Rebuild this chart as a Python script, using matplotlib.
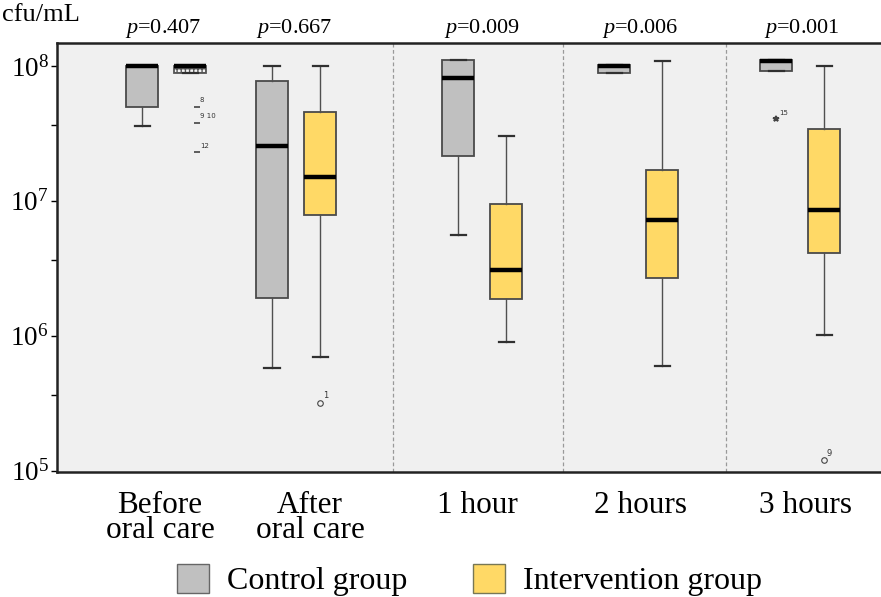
import numpy as np
import matplotlib
matplotlib.use("Agg")
import matplotlib.pyplot as plt
from matplotlib.patches import Patch
from matplotlib.ticker import FixedLocator, NullFormatter

plt.rcParams['font.family'] = ['Liberation Serif', 'DejaVu Serif']
plt.rcParams['mathtext.fontset'] = 'custom'
plt.rcParams['mathtext.rm'] = 'Liberation Serif'
plt.rcParams['mathtext.it'] = 'Liberation Serif:italic'

# data (cfu/mL)
categories = ["Before\noral care", "After\noral care", "1 hour", "2 hours", "3 hours"]
p_values = ["0.407", "0.667", "0.009", "0.006", "0.001"]

ctrl_whislo = [3.6e7, 5.8e5, 5.6e6, 8.8e7, 9.2e7]
ctrl_q1 = [4.95e7, 1.9e6, 2.15e7, 8.8e7, 9.2e7]
ctrl_med = [1.0e8, 2.55e7, 8.1e7, 1.0e8, 1.08e8]
ctrl_q3 = [1.0e8, 7.7e7, 1.1e8, 1.02e8, 1.11e8]
ctrl_whishi = [1.0e8, 1.0e8, 1.1e8, 1.02e8, 1.11e8]

int_whislo = [8.9e7, 6.9e5, 9.0e5, 6.0e5, 1.02e6]
int_q1 = [8.9e7, 7.9e6, 1.88e6, 2.7e6, 4.1e6]
int_med = [1.0e8, 1.5e7, 3.08e6, 7.2e6, 8.6e6]
int_q3 = [1.0e8, 4.57e7, 9.5e6, 1.7e7, 3.4e7]
int_whishi = [1.0e8, 1.0e8, 3.03e7, 1.09e8, 1.0e8]

# outliers: (category index, group, value, case label, marker)
outliers = [
    (0, "int", 5.0e7, "8", "_"),
    (0, "int", 3.8e7, "9 10", "_"),
    (0, "int", 2.3e7, "12", "_"),
    (1, "int", 3.2e5, "1", "o"),
    (4, "ctrl", 4.05e7, "15", "*"),
    (4, "int", 1.2e5, "9", "o"),
]

ctrl_color = "#c0c0c0"
int_color = "#ffd966"

centers = np.array([1.66, 2.96, 4.82, 6.38, 8.00])
offset = 0.24
width = 0.32


def make_stats(lo, q1, med, q3, hi):
    return [dict(whislo=a, q1=b, med=c, q3=d, whishi=e, fliers=[])
            for a, b, c, d, e in zip(lo, q1, med, q3, hi)]


fig = plt.figure(figsize=(8.81, 5.97), dpi=100)
ax = fig.add_axes([57 / 881, 1 - 472 / 597, 1 - 57 / 881, (472 - 43) / 597])
ax.set_facecolor("#f0f0f0")

common = dict(widths=width, patch_artist=True, showfliers=False, capwidths=0.15,
              whiskerprops=dict(color="#505050", lw=1.0),
              capprops=dict(color="#303030", lw=1.6),
              medianprops=dict(color="black", lw=3.2, solid_capstyle="butt"))

b1 = ax.bxp(make_stats(ctrl_whislo, ctrl_q1, ctrl_med, ctrl_q3, ctrl_whishi),
            positions=centers - offset, **common)
b2 = ax.bxp(make_stats(int_whislo, int_q1, int_med, int_q3, int_whishi),
            positions=centers + offset, **common)
for box in b1["boxes"]:
    box.set(facecolor=ctrl_color, edgecolor="#4a4a4a", lw=1.3)
for i, box in enumerate(b2["boxes"]):
    box.set(facecolor=int_color, edgecolor="#4a4a4a", lw=1.3)
    if i == 0:
        box.set(facecolor="#f4f4f4", hatch="++++", edgecolor="#555555")

for idx, grp, val, lab, mk in outliers:
    x = centers[idx] + (offset if grp == "int" else -offset)
    if idx == 0:
        x += 0.07
    if mk == "o":
        ax.plot(x, val, marker="o", ms=4, mfc="none", mec="#444444", mew=0.8)
        fs = 6
    else:
        ax.plot(x, val, marker=mk, ms=4, color="#444444", mew=1.2)
        fs = 5
    ax.annotate(lab, (x, val), xytext=(2, 3), textcoords="offset points",
                fontsize=fs, family="DejaVu Sans", color="#333333")

for xv in [3.93, 5.63, 7.26]:
    ax.axvline(xv, color="#999999", lw=0.9, ls=(0, (3, 2)))

ax.set_yscale("log")
ax.set_ylim(10 ** 4.99, 10 ** 8.17)
ax.set_xlim(0.57, 8.81)
ax.yaxis.set_major_locator(FixedLocator([1e5, 1e6, 1e7, 1e8]))
ax.set_yticklabels([r"$10^{5}$", r"$10^{6}$", r"$10^{7}$", r"$10^{8}$"], fontsize=19.5)
ax.yaxis.set_minor_locator(FixedLocator([10 ** (k + 0.56) for k in (5, 6, 7)]))
ax.yaxis.set_minor_formatter(NullFormatter())
ax.tick_params(axis="y", which="both", length=4, width=1, direction="out", pad=2)

ax.set_xticks([1.60, 3.10, 4.77, 6.40, 8.05])
ax.set_xticklabels(categories, fontsize=22.5, linespacing=0.82)
ax.tick_params(axis="x", length=0, pad=14)

for s in ["left", "bottom", "top"]:
    ax.spines[s].set_linewidth(1.8)
    ax.spines[s].set_color("#222222")
ax.spines["right"].set_visible(False)

for xc, pv in zip([1.63, 2.94, 4.82, 6.40, 8.02], p_values):
    ax.text(xc, 1.008, r"$p$=" + pv, transform=ax.get_xaxis_transform(),
            ha="center", va="bottom", fontsize=16)

fig.text(2 / 881, 1 - 15 / 597, "cfu/mL", fontsize=19, va="center", ha="left")

handles = [Patch(facecolor=ctrl_color, edgecolor="#666666"),
           Patch(facecolor=int_color, edgecolor="#777755")]
fig.legend(handles, ["Control group", "Intervention group"], ncol=2, frameon=False,
           loc="upper left", bbox_to_anchor=(177 / 881, 1 - 564 / 597),
           fontsize=23, handlelength=1.0, handleheight=1.0, handletextpad=0.55,
           columnspacing=2.08, borderpad=0, borderaxespad=0)

fig.savefig("out.png", dpi=100)
